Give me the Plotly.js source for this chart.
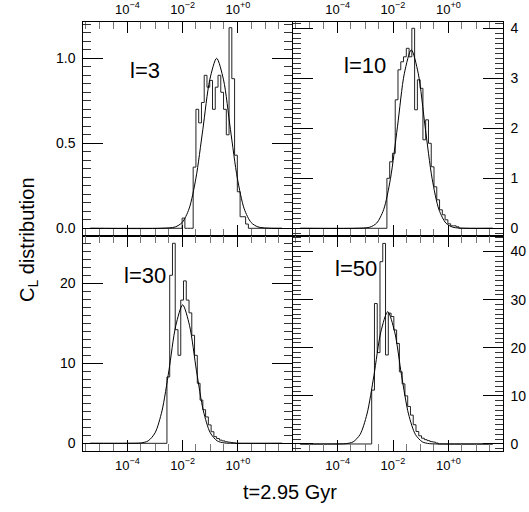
<!DOCTYPE html>
<html><head><meta charset="utf-8">
<script src="https://cdn.plot.ly/plotly-3.0.1.min.js"></script>
<style>html,body{margin:0;padding:0;background:#fff}#chart{width:529px;height:512px}</style>
</head><body><div id="chart"></div>
<script>
// ---------- data ----------
const panelLabels = ['l=3', 'l=10', 'l=30', 'l=50'];
const binWidth = 0.1;              // bin width in log10(t) decades
const histLogMin = -5.35, histLogMax = 1.6;

const histStartTL = -2.02;
const histValuesTL = [0.06, 0, 0, 0, 0.36, 0.70, 0.62, 0.74, 0.90, 0.83, 0.87, 0.70, 0.83, 0.90, 0.80, 0.70, 0.55, 1.18, 0.88, 0.43, 0.215, 0.068, 0.068, 0.025];
const histStartTR = -2.22;
const histValuesTR = [1.0, 1.33, 1.5, 2.57, 3.17, 3.33, 3.43, 3.6, 3.43, 4.0, 2.37, 2.97, 2.8, 1.77, 2.17, 1.7, 1.23, 0.83, 0.57, 0.37, 0.27, 0.17, 0.09, 0.05, 0.05, 0.03];
const histStartBL = -2.57;
const histValuesBL = [8.3, 21.0, 25.0, 14.2, 11.0, 17.9, 20.3, 17.9, 16.3, 13.5, 11.0, 7.5, 5.4, 4.2, 3.3, 2.3, 1.45, 0.83, 0.6, 0.4, 0.3, 0.2, 0.15, 0.1, 0.05];
const histStartBR = -2.77;
const histValuesBR = [11.2, 29.2, 19.0, 37.9, 41.7, 18.5, 27.2, 26.5, 23.7, 20.9, 15.0, 12.5, 10.0, 7.8, 6.0, 4.0, 2.6, 1.7, 1.2, 0.9, 0.7, 0.5, 0.4, 0.2];

const curveLogTL = [-5.35, -2.77, -2.27, -2.02, -1.77, -1.52, -1.27, -1.02, -0.77, -0.52, -0.27, -0.02, 0.23, 0.48, 0.73, 1.23, 1.6];
const curveValTL = [0, 0, 0.008, 0.034, 0.114, 0.295, 0.581, 0.873, 1.0, 0.873, 0.581, 0.295, 0.114, 0.034, 0.008, 0, 0];
const curveLogTR = [-5.35, -3.34, -2.84, -2.59, -2.34, -2.09, -1.84, -1.59, -1.34, -1.09, -0.84, -0.59, -0.34, -0.09, 0.16, 0.66, 1.6];
const curveValTR = [0, 0, 0.022, 0.104, 0.371, 1.00, 2.03, 3.10, 3.57, 3.10, 2.03, 1.00, 0.371, 0.104, 0.022, 0, 0];
const curveLogBL = [-5.35, -4.0, -3.5, -3.25, -3.0, -2.75, -2.5, -2.25, -2.0, -1.75, -1.5, -1.25, -1.0, -0.75, -0.5, 0.0, 1.6];
const curveValBL = [0, 0, 0.052, 0.306, 1.31, 4.05, 9.07, 14.7, 17.3, 14.7, 9.07, 4.05, 1.31, 0.306, 0.052, 0, 0];
const curveLogBR = [-5.35, -4.19, -3.69, -3.44, -3.19, -2.94, -2.69, -2.44, -2.19, -1.94, -1.69, -1.44, -1.19, -0.94, -0.69, -0.19, 1.6];
const curveValBR = [0, 0, 0.072, 0.44, 1.96, 6.22, 14.2, 23.3, 27.5, 23.3, 14.2, 6.22, 1.96, 0.44, 0.072, 0, 0];

const xTickVals = [1e-4, 1e-2, 1];
const xTickText = ['10<sup>\u22124</sup>', '10<sup>\u22122</sup>', '10<sup>+0</sup>'];
const xMinorVals = [1e-5, 1e-3, 1e-1, 10, 3e-6, 3e-5, 3e-4, 3e-3, 3e-2, 3e-1, 3, 30];
const yTickValsTL = [0, 0.5, 1.0], yTickTextTL = ['0.0', '0.5', '1.0'];
const yTickValsTR = [0, 1, 2, 3, 4];
const yTickValsBL = [0, 10, 20];
const yTickValsBR = [0, 10, 20, 30, 40];

// ---------- helpers ----------
function steps(start, vals) {
  const xs = [Math.pow(10, histLogMin)], ys = [0];
  for (let i = 0; i < vals.length; i++) { xs.push(Math.pow(10, start + binWidth * i)); ys.push(vals[i]); }
  xs.push(Math.pow(10, start + binWidth * vals.length)); ys.push(0);
  xs.push(Math.pow(10, histLogMax)); ys.push(0);
  return {xs, ys};
}
const pw = 529, ph = 512;
const fx = p => p / pw, fy = p => (ph - p) / ph;

const panels = [
  {start: histStartTL, vals: histValuesTL, cl: curveLogTL, cv: curveValTL, xa: 'x', ya: 'y'},
  {start: histStartTR, vals: histValuesTR, cl: curveLogTR, cv: curveValTR, xa: 'x2', ya: 'y2'},
  {start: histStartBL, vals: histValuesBL, cl: curveLogBL, cv: curveValBL, xa: 'x3', ya: 'y3'},
  {start: histStartBR, vals: histValuesBR, cl: curveLogBR, cv: curveValBR, xa: 'x4', ya: 'y4'}
];
const traces = [];
panels.forEach(p => {
  const s = steps(p.start, p.vals);
  traces.push({x: s.xs, y: s.ys, xaxis: p.xa, yaxis: p.ya, mode: 'lines', line: {shape: 'hv', color: '#222', width: 1}, hoverinfo: 'skip', showlegend: false});
  traces.push({x: p.cl.map(v => Math.pow(10, v)), y: p.cv, xaxis: p.xa, yaxis: p.ya, mode: 'lines', line: {shape: 'spline', smoothing: 0.8, color: '#000', width: 1}, hoverinfo: 'skip', showlegend: false});
});

const font = {family: 'Liberation Sans, Arial, sans-serif', size: 13, color: '#000'};
const yfont = {family: 'Liberation Sans, Arial, sans-serif', size: 14, color: '#000'};
function xAxis(domain, side, labels) {
  return {
    type: 'log', domain: domain, range: [-5.6, 1.96], side: side,
    tickmode: 'array', tickvals: xTickVals, ticktext: xTickText, showticklabels: labels,
    ticks: 'inside', ticklen: 11, tickwidth: 1, tickcolor: '#000', mirror: 'ticks',
    showline: true, linecolor: '#000', linewidth: 1, showgrid: false, zeroline: false,
    tickfont: font, ticklabelstandoff: 2,
    minor: {tickmode: 'array', tickvals: xMinorVals, ticks: 'inside', ticklen: 7, tickcolor: '#777', showgrid: false}
  };
}
function yAxis(domain, side, range, vals, text, minorDt, anchor) {
  const a = {
    domain: domain, range: range, side: side, anchor: anchor,
    tickmode: 'array', tickvals: vals, ticks: 'inside', ticklen: 20, tickwidth: 1, tickcolor: '#000',
    mirror: 'ticks', showline: true, linecolor: '#000', linewidth: 1, showgrid: false, zeroline: false,
    tickfont: yfont, ticklabelstandoff: 4,
    minor: {dtick: minorDt, ticks: 'inside', ticklen: 8, tickcolor: '#333', showgrid: false}
  };
  if (text) a.ticktext = text;
  return a;
}
const xL = [fx(83.3), fx(292)], xR = [fx(293.3), fx(502.7)];
const yT = [fy(235.7), fy(22)], yB = [fy(451), fy(236)];

const layout = {
  width: pw, height: ph, margin: {l: 0, r: 0, t: 0, b: 0},
  paper_bgcolor: '#fff', plot_bgcolor: '#fff', font: font, showlegend: false,
  xaxis: Object.assign(xAxis(xL, 'top', true), {anchor: 'y'}),
  yaxis: yAxis(yT, 'left', [-0.0435, 1.2135], yTickValsTL, yTickTextTL, 0.05, 'x'),
  xaxis2: Object.assign(xAxis(xR, 'top', true), {anchor: 'y2'}),
  yaxis2: yAxis(yT, 'right', [-0.148, 4.126], yTickValsTR, null, 0.1, 'x2'),
  xaxis3: Object.assign(xAxis(xL, 'bottom', true), {anchor: 'y3'}),
  yaxis3: yAxis(yB, 'left', [-0.96, 25.91], yTickValsBL, null, 1, 'x3'),
  xaxis4: Object.assign(xAxis(xR, 'bottom', true), {anchor: 'y4'}),
  yaxis4: yAxis(yB, 'right', [-1.46, 43.24], yTickValsBR, null, 1, 'x4'),
  annotations: [
    {text: panelLabels[0], x: fx(145), y: fy(70)},
    {text: panelLabels[1], x: fx(365), y: fy(65)},
    {text: panelLabels[2], x: fx(145), y: fy(275)},
    {text: panelLabels[3], x: fx(356), y: fy(268)}
  ].map(a => Object.assign(a, {xref: 'paper', yref: 'paper', showarrow: false, xanchor: 'center', yanchor: 'middle', font: {family: font.family, size: 22, color: '#000'}})).concat([
    {text: 'C<sub>L</sub> distribution', x: fx(28), y: fy(240), textangle: -90, xref: 'paper', yref: 'paper', showarrow: false, xanchor: 'center', yanchor: 'middle', font: {family: font.family, size: 20, color: '#000'}},
    {text: 't=2.95 Gyr', x: fx(290), y: fy(492), xref: 'paper', yref: 'paper', showarrow: false, xanchor: 'center', yanchor: 'middle', font: {family: font.family, size: 20, color: '#000'}}
  ])
};
Plotly.newPlot('chart', traces, layout, {staticPlot: true, displayModeBar: false});
</script></body></html>
